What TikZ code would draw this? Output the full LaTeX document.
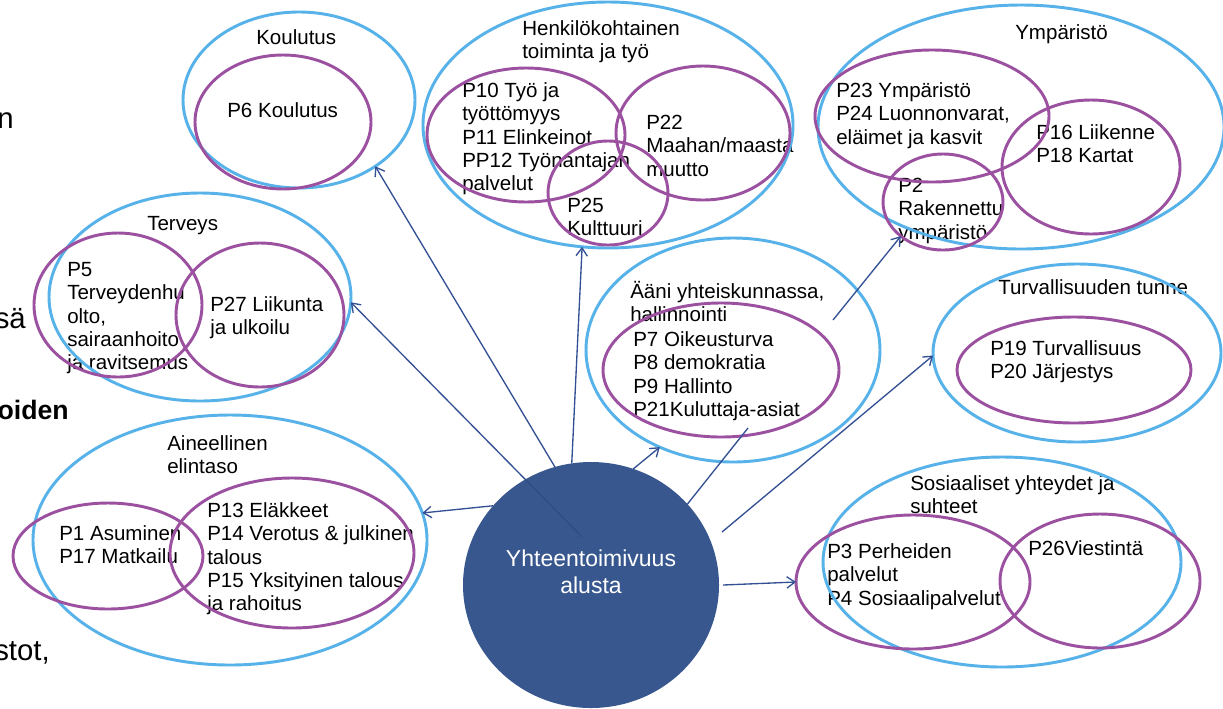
\documentclass[tikz,border=0pt]{standalone}
\usepackage{fontspec}
\setmainfont{Liberation Sans}
\usetikzlibrary{shapes.geometric,arrows.meta}
\definecolor{cblue}{RGB}{86,178,232}
\definecolor{cpurp}{RGB}{155,80,160}
\definecolor{chub}{RGB}{44,77,136}
\definecolor{cline}{RGB}{52,80,148}
\begin{document}
\begin{tikzpicture}[x=0.75pt,y=-0.75pt,
 outerell/.style={ellipse,draw=cblue,line width=2.2pt,inner sep=0pt,outer sep=0pt},
 innerell/.style={ellipse,draw=cpurp,line width=2.2pt,inner sep=0pt,outer sep=0pt},
 txt/.style={anchor=north west,align=left,inner sep=0pt,font=\fontsize{15.4}{17.5}\selectfont},
 frag/.style={anchor=base east,inner sep=0pt,font=\fontsize{22}{26}\selectfont},
 conn/.style={draw=cline,line width=1pt},
 arr/.style={conn,-{Straight Barb[length=6pt,width=8.5pt]}}]
\useasboundingbox (0,0) rectangle (1223,708);
\clip (0,0) rectangle (1223,708);
\fill[white] (0,0) rectangle (1223,708);

% left fragments
\node[frag] (f1) at (14,128) {n};
\node[frag] (f2) at (26,328) {sä};
\node[frag,font=\bfseries\fontsize{20}{24}\selectfont] (f3) at (69,419) {oiden};
\node[frag] (f4) at (50,660) {stot,};

% texts
\node[txt] (tkoul) at (256,28) {\strut Koulutus};
\node[txt] (tp6) at (227,101) {\strut P6 Koulutus};
\node[txt] (thenk) at (522,19) {\strut Henkilökohtainen\\toiminta ja työ};
\node[txt] (tp10) at (462,81) {\strut P10 Työ ja\\työttömyys\\P11 Elinkeinot\\PP12 Työnantajan\\palvelut};
\node[txt] (tp22) at (646,113) {\strut P22\\Maahan/maasta\\muutto};
\node[txt] (tp25) at (567,196) {\strut P25\\Kulttuuri};
\node[txt] (tymp) at (1015,23) {\strut Ympäristö};
\node[txt] (tp23) at (836,81) {\strut P23 Ympäristö\\P24 Luonnonvarat,\\eläimet ja kasvit};
\node[txt] (tp16) at (1036,123) {\strut P16 Liikenne\\P18 Kartat};
\node[txt] (tp2) at (898,176) {\strut P2\\Rakennettu\\ympäristö};
\node[txt] (tterv) at (147,214) {\strut Terveys};
\node[txt] (tp5) at (67,260) {\strut P5\\Terveydenhu\\olto,\\sairaanhoito\\ja ravitsemus};
\node[txt] (tp27) at (210,295) {\strut P27 Liikunta\\ja ulkoilu};
\node[txt] (taani) at (630,281) {\strut Ääni yhteiskunnassa,\\hallinnointi};
\node[txt] (tp7) at (633,330) {\strut P7 Oikeusturva\\P8 demokratia\\P9 Hallinto\\P21Kuluttaja-asiat};
\node[txt] (tturv) at (998,278) {\strut Turvallisuuden tunne};
\node[txt] (tp19) at (990,339) {\strut P19 Turvallisuus\\P20 Järjestys};
\node[txt] (taine) at (167,434) {\strut Aineellinen\\elintaso};
\node[txt] (tp1) at (59,524) {\strut P1 Asuminen\\P17 Matkailu};
\node[txt] (tp13) at (207,501) {\strut P13 Eläkkeet\\P14 Verotus \& julkinen\\talous\\P15 Yksityinen talous\\ja rahoitus};
\node[txt] (tsos) at (910,474) {\strut Sosiaaliset yhteydet ja\\suhteet};
\node[txt] (tp3) at (827,542) {\strut P3 Perheiden\\palvelut\\P4 Sosiaalipalvelut};
\node[txt] (tp26) at (1028,539) {\strut P26Viestintä};

% outer (blue) ellipses
\node[outerell,minimum width=174pt,minimum height=132pt] (koul) at (299,100) {};
\node[outerell,minimum width=277.5pt,minimum height=184.5pt] (henk) at (608,125) {};
\node[outerell,minimum width=304.5pt,minimum height=183pt] (ymp) at (1021,127) {};
\node[outerell,minimum width=226.5pt,minimum height=156pt] (terv) at (200,297) {};
\node[outerell,minimum width=220.5pt,minimum height=168pt] (aani) at (733,350) {};
\node[outerell,minimum width=216pt,minimum height=133.5pt] (turv) at (1077,353) {};
\node[outerell,minimum width=295.5pt,minimum height=187.5pt] (aine) at (230,540) {};
\node[outerell,minimum width=268.5pt,minimum height=157.5pt] (sos) at (1002,562) {};

% inner (purple) ellipses
\node[innerell,minimum width=132pt,minimum height=100.5pt] (p6) at (283,122) {};
\node[innerell,minimum width=148.5pt,minimum height=100.5pt] (p10) at (526,135) {};
\node[innerell,minimum width=130.5pt,minimum height=100.5pt] (p22) at (703,133) {};
\node[innerell,minimum width=90pt,minimum height=78pt] (p25) at (608,193) {};
\node[innerell,minimum width=175.5pt,minimum height=99pt] (p23) at (932,116) {};
\node[innerell,minimum width=133.5pt,minimum height=100.5pt] (p16) at (1091,167) {};
\node[innerell,minimum width=90pt,minimum height=72pt] (p2) at (943,202) {};
\node[innerell,minimum width=126pt,minimum height=108pt] (p5) at (118,305) {};
\node[innerell,minimum width=126pt,minimum height=108pt] (p27) at (260,315) {};
\node[innerell,minimum width=177pt,minimum height=100.5pt] (p7) at (721,370) {};
\node[innerell,minimum width=175.5pt,minimum height=79.5pt] (p19) at (1074,370) {};
\node[innerell,minimum width=142.5pt,minimum height=79.5pt] (p1) at (108,556) {};
\node[innerell,minimum width=183pt,minimum height=112.5pt] (p13) at (292,553) {};
\node[innerell,minimum width=175.5pt,minimum height=100.5pt] (p3) at (913,582) {};
\node[innerell,minimum width=150pt,minimum height=100.5pt] (p26) at (1100,581) {};

% line that shows through the hub
\coordinate (tin) at (582,537);
\draw[arr] (tin) -- (terv.-2.3);

% hub
\node[ellipse,fill=chub,fill opacity=0.94,inner sep=0pt,outer sep=0pt,minimum width=192pt,minimum height=184.5pt] (hub) at (591,585) {};
\node[align=center,text=white,inner sep=0pt,font=\fontsize{17.25}{20.25}\selectfont] (hubtxt) at (591,572) {Yhteentoimivuus\\alusta};

% connectors
\coordinate (cturv) at (722,532);
\coordinate (csos) at (723,585);
\coordinate (lend) at (748,428);
\coordinate (cp2) at (833,320);
\draw[arr] (hub.107) -- (koul.-41.7);
\draw[arr] (hub.99.8) -- (henk.-102.8);
\draw[arr] (hub.141.5) -- (aine.8);
\draw[arr] (hub.70) -- (aani.-127);
\draw[conn] (hub.40.9) -- (lend);
\draw[arr] (cturv) -- (turv.181);
\draw[arr] (csos) -- (p3.west);
\draw[arr] (cp2) -- (p2.-141.7);
\end{tikzpicture}
\end{document}
